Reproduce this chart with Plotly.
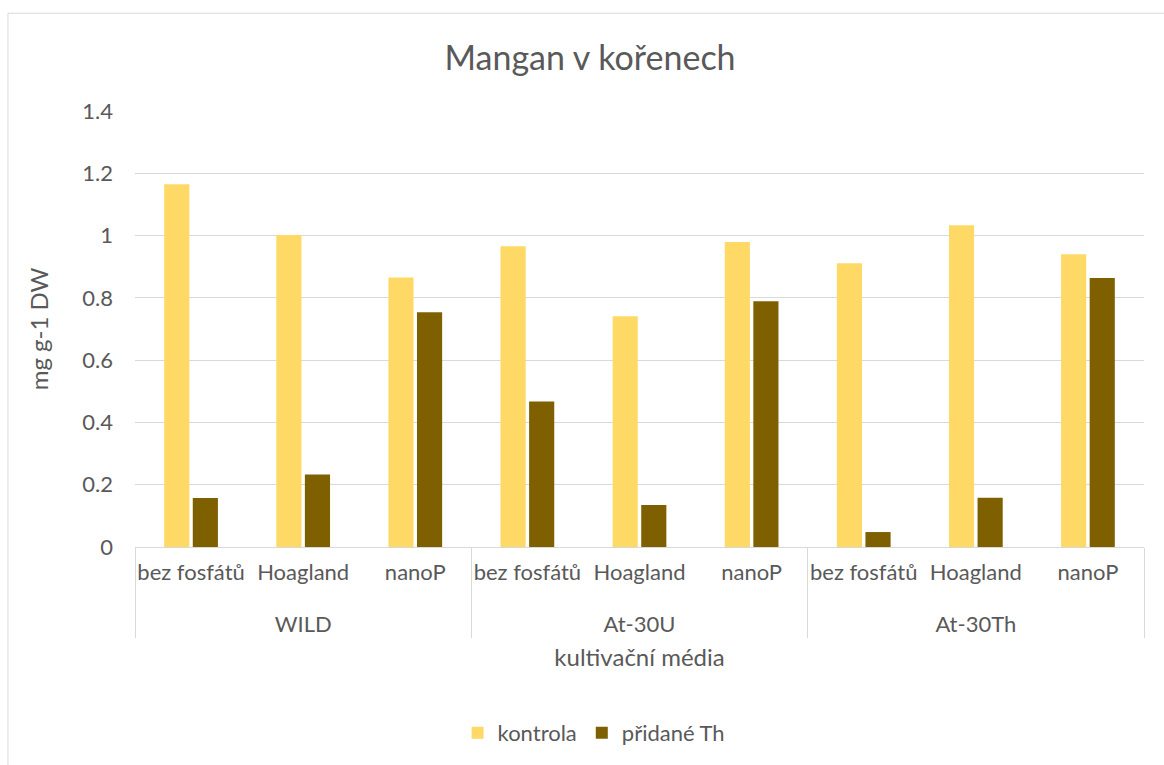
import plotly.graph_objects as go

groups = ["WILD", "WILD", "WILD", "At-30U", "At-30U", "At-30U", "At-30Th", "At-30Th", "At-30Th"]
media = ["bez fosfátů", "Hoagland", "nanoP"] * 3
kontrola = [1.165, 1.002, 0.865, 0.966, 0.741, 0.979, 0.911, 1.033, 0.940]
pridane_th = [0.157, 0.233, 0.754, 0.467, 0.135, 0.789, 0.048, 0.158, 0.864]

FONT = "Lato"
TXT = "#595959"
GRID = "#D9D9D9"
FS = 22
FT = 24

# push the group row down to leave the same gap as the original chart
group_labels = ["<br>" + g for g in groups]

fig = go.Figure()
fig.add_trace(go.Bar(x=[group_labels, media], y=kontrola, name="kontrola",
                     marker=dict(color="#FFD966", line=dict(width=0))))
fig.add_trace(go.Bar(x=[group_labels, media], y=pridane_th, name="přidané Th",
                     marker=dict(color="#7F6000", line=dict(width=0))))

fig.update_layout(
    width=1164, height=765,
    margin=dict(l=135, r=20, t=111, b=217),
    paper_bgcolor="white", plot_bgcolor="white",
    font=dict(family=FONT, color=TXT, size=FS),
    title=dict(text="Mangan v kořenech", x=0.5069, xanchor="center", y=0.924, yanchor="middle",
               font=dict(family=FONT, size=34, color=TXT)),
    barmode="group", bargap=0.49, bargroupgap=0.12,
    showlegend=True,
    legend=dict(orientation="h", x=0.455, xanchor="center", y=-0.423, yanchor="middle",
                font=dict(family=FONT, size=FS, color=TXT), traceorder="normal"),
    xaxis=dict(type="multicategory", showline=True, linecolor=GRID, linewidth=1,
               showdividers=True, dividercolor=GRID, dividerwidth=1,
               showgrid=False, ticks="", automargin=False, tickangle=0,
               ticklabelstandoff=6,
               tickfont=dict(family=FONT, size=FS, color=TXT),
               title=dict(text="kultivační média", font=dict(family=FONT, size=FT, color=TXT), standoff=13)),
    yaxis=dict(range=[0, 1.4], dtick=0.2, showgrid=True, gridcolor=GRID, gridwidth=1,
               zeroline=False, showline=False, ticks="", automargin=False,
               ticklabelstandoff=21,
               tickfont=dict(family=FONT, size=FS, color=TXT),
               title=dict(text="mg g-1 DW", font=dict(family=FONT, size=FT, color=TXT), standoff=26)),
    shapes=[dict(type="rect", xref="paper", yref="paper",
                 x0=-0.1259, x1=1.03, y0=-0.52, y1=1.2243,
                 line=dict(color=GRID, width=1), fillcolor="rgba(0,0,0,0)", layer="below")],
)

fig.write_html("out.html", config={"displayModeBar": False},
               post_script="document.body.style.margin='0px';")
